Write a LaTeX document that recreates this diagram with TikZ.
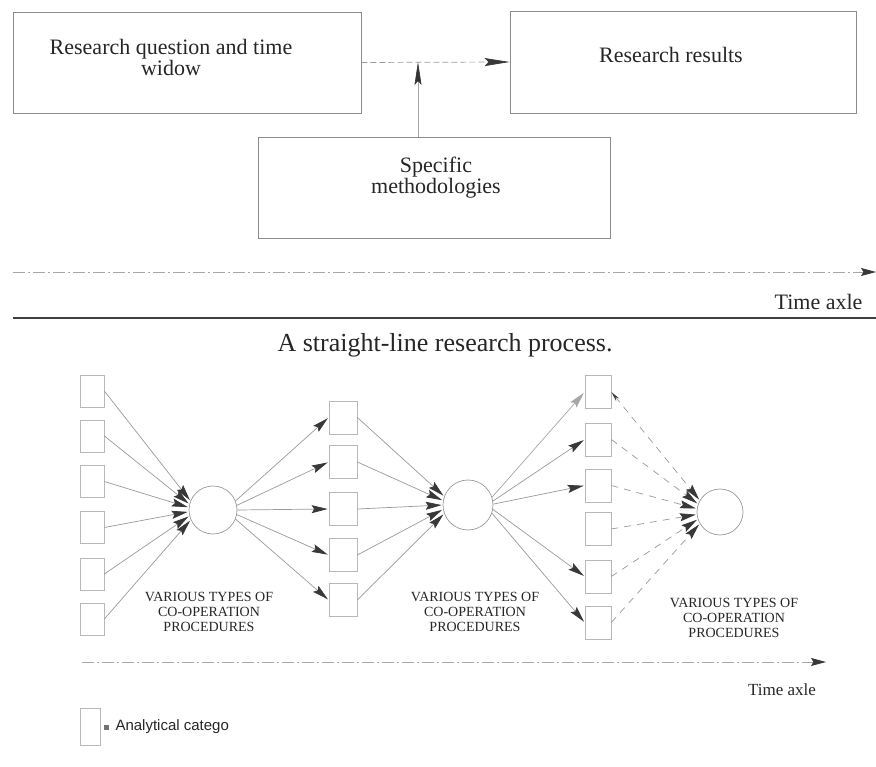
\documentclass[tikz,border=0pt]{standalone}
\usepackage{fontspec}
\setmainfont{Liberation Serif}
\newfontfamily\legendfont{Liberation Sans}
\usetikzlibrary{arrows.meta}
\begin{document}
\begin{tikzpicture}[x=1pt,y=-1pt,
  box/.style={draw=black!45, line width=0.8pt, inner sep=0pt},
  cbox/.style={draw=black!28, line width=0.7pt, inner sep=0pt, minimum height=33pt},
  circ/.style={circle, draw=black!40, line width=0.7pt, minimum size=48pt, inner sep=0pt},
  tip/.style={-{Stealth[length=16pt,width=8pt,inset=2.5pt,fill=black!78,color=black!78]}},
  arr/.style={draw=black!40, line width=0.7pt, tip, shorten >=1pt},
  darr/.style={arr, dash pattern=on 7pt off 6pt},
  lbl/.style={font=\fontsize{14}{15}\selectfont, align=center, text=black!85},
  txt/.style={font=\fontsize{22}{21}\selectfont, align=center, text=black!85},
  axis/.style={draw=black!35, line width=0.8pt, dash pattern=on 12pt off 3pt on 2pt off 3pt, -{Stealth[length=15pt,width=8pt,inset=2.5pt,fill=black!78,color=black!78]}},
]
\useasboundingbox (0,0) rectangle (876,767);

% ---- top: straight-line process ----
\node[box, minimum width=348pt, minimum height=101pt] (q) at (187,62.5) {};
\node[txt] (qt) at (171,57) {Research question and time\\widow};
\node[box, minimum width=346pt, minimum height=102pt] (r) at (683,62) {};
\node[txt] (rt) at (671,55) {Research results};
\node[box, minimum width=352pt, minimum height=101pt] (m) at (434,187.5) {};
\node[txt] (mt) at (436,178) {Specific\\methodologies};

\draw[draw=black!40, line width=0.7pt, dash pattern=on 6pt off 3pt, -{Stealth[length=25pt,width=8pt,inset=4pt,fill=black!78,color=black!78]}] (q.east) -- (r.west);
\coordinate (vt) at (418,62);
\draw[draw=black!35, line width=0.6pt, -{Stealth[length=23pt,width=7pt,inset=4pt,fill=black!80,color=black!80]}] (m.north -| vt) -- (vt);

\coordinate (ta0) at (13,272);
\coordinate (ta1) at (876,272);
\draw[axis] (ta0) -- (ta1);
\node[txt, anchor=east] (tat) at (866,302) {Time axle};
\coordinate (s0) at (13,318);
\coordinate (s1) at (876,318);
\draw[black!75, line width=1.2pt] (s0) -- (s1);
\node[font=\fontsize{26}{28}\selectfont, text=black!85] (cap) at (445,345) {A straight-line research process.};

% ---- bottom: iterative process ----
\foreach \y [count=\i] in {391,436,481.5,527.5,574,619}
  \node[cbox, minimum width=24pt, minimum height=32pt] (a\i) at (92,\y) {};
\foreach \y [count=\i] in {417.5,462,509,555,600}
  \node[cbox, minimum width=28pt] (b\i) at (343,\y) {};
\foreach \y [count=\i] in {392,439.5,485.5,529,576.5,622.5}
  \node[cbox, minimum width=26pt] (c\i) at (598,\y) {};

\node[circ] (o1) at (213,510) {};
\node[circ, minimum size=50pt] (o2) at (468,505) {};
\node[circ, minimum size=46pt] (o3) at (720,512) {};

\foreach \i/\a in {1/158,2/166,3/174,4/184,5/194,6/204}
  \draw[arr] (a\i.east) -- (o1.\a);
\foreach \i/\a in {1/22,2/11,3/0,4/-11,5/-22}
  \draw[arr] (o1.\a) -- (b\i.west);
\foreach \i/\a in {1/160,2/170,3/180,4/190,5/200}
  \draw[arr] (b\i.east) -- (o2.\a);
\draw[draw=black!35, line width=0.7pt, -{Stealth[length=16pt,width=8pt,inset=2.5pt,fill=black!35,color=black!35]}, shorten >=1pt] (o2.18) -- (c1.west);
\foreach \i/\a in {2/9,3/2,5/-10,6/-19}
  \draw[arr] (o2.\a) -- (c\i.west);
\draw[darr, {Stealth[length=10pt,width=4pt,fill=black!75,color=black!75]}-{Stealth[length=16pt,width=8pt,inset=2.5pt,fill=black!78,color=black!78]}] (c1.east) -- (o3.150);
\foreach \i/\a in {2/160,3/172,4/186,5/198,6/210}
  \draw[darr] (c\i.east) -- (o3.\a);

\node[lbl] (l1) at (209,612) {VARIOUS TYPES OF\\CO-OPERATION\\PROCEDURES};
\node[lbl] (l2) at (475,612) {VARIOUS TYPES OF\\CO-OPERATION\\PROCEDURES};
\node[lbl] (l3) at (734,618) {VARIOUS TYPES OF\\CO-OPERATION\\PROCEDURES};

\coordinate (tb0) at (82,662);
\coordinate (tb1) at (826,662);
\draw[axis] (tb0) -- (tb1);
\node[font=\fontsize{17}{18}\selectfont, text=black!85] (tbt) at (782,690) {Time axle};

% legend
\node[cbox, minimum width=20pt, minimum height=37pt] (lg) at (90,726.5) {};
\node[fill=black!55, minimum size=5pt, inner sep=0pt] (lgb) at (106,727) {};
\node[font=\legendfont\fontsize{15}{16}\selectfont, anchor=west, text=black!85] (lgt) at (112,727) {Analytical catego};
\end{tikzpicture}
\end{document}
